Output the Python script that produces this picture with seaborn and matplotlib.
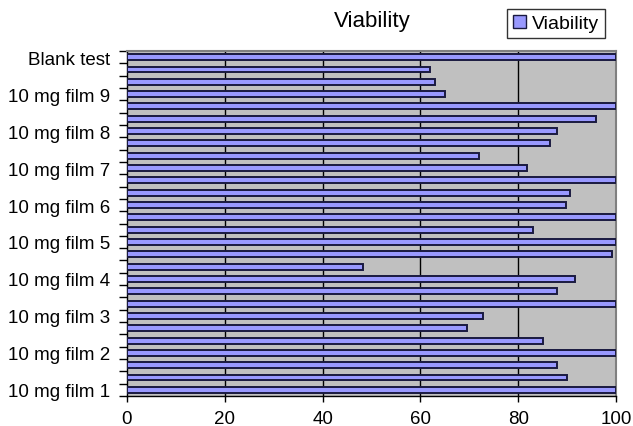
import matplotlib
matplotlib.use("Agg")
import matplotlib.pyplot as plt
import matplotlib.patches as mpatches
import seaborn as sns
import pandas as pd

# Data, listed from the bottom bar to the top bar
viability = [100, 90, 88, 100, 85, 69.6, 72.7, 100, 88, 91.7, 48.2, 99.2, 100, 83,
             100, 89.8, 90.6, 100, 81.7, 72, 86.6, 88, 96, 100, 65, 63, 62, 100]
samples = [f"s{i + 1}" for i in range(len(viability))]
tick_labels = ["10 mg film 1", "", "", "10 mg film 2", "", "", "10 mg film 3", "", "",
               "10 mg film 4", "", "", "10 mg film 5", "", "", "10 mg film 6", "", "",
               "10 mg film 7", "", "", "10 mg film 8", "", "", "10 mg film 9", "", "",
               "Blank test"]
x_ticks = [0, 20, 40, 60, 80, 100]
title = "Viability"
series_name = "Viability"

df = pd.DataFrame({"sample": samples, "viability": viability})

sns.set_theme(style="white")
plt.rcParams["font.family"] = ["Liberation Sans", "DejaVu Sans"]
plt.rcParams["text.color"] = "black"
plt.rcParams["xtick.color"] = "black"
plt.rcParams["ytick.color"] = "black"
plt.rcParams["xtick.labelcolor"] = "black"
plt.rcParams["ytick.labelcolor"] = "black"

W, H = 633, 427
fig = plt.figure(figsize=(W / 100, H / 100), dpi=100)
left, right, top, bottom = 127, 616, 52, 397
ax = fig.add_axes([left / W, 1 - bottom / H, (right - left) / W, (bottom - top) / H])

ax.set_facecolor("#c0c0c0")
order = list(reversed(samples))
sns.barplot(data=df, x="viability", y="sample", order=order, orient="h",
            color="#9999ff", edgecolor="#1a1a40", linewidth=1.4, width=0.48,
            saturation=1, ax=ax, zorder=3)

ax.set_xlim(0, 100)
ax.set_ylim(len(samples) - 0.5, -0.5)
ax.set_xlabel("")
ax.set_ylabel("")

# grid lines
for g in x_ticks[1:-1]:
    ax.axvline(g, color="black", lw=1.0, zorder=1)

ax.set_xticks(x_ticks)
ax.set_xticklabels([str(t) for t in x_ticks], fontsize=13.5, color="black")
ax.set_yticks(range(len(samples)))
ax.set_yticklabels(list(reversed(tick_labels)), fontsize=13.5, color="black")
ax.set_yticks([i - 0.5 for i in range(len(samples) + 1)], minor=True)
ax.tick_params(axis="y", which="major", length=0, pad=12)
ax.tick_params(axis="y", which="minor", length=6, width=1, color="black", direction="out", left=True)
ax.tick_params(axis="x", which="major", length=4, width=1, color="black", direction="out", bottom=True, pad=6)

for s in ["left", "bottom"]:
    ax.spines[s].set_color("black")
    ax.spines[s].set_linewidth(1.0)
for s in ["top", "right"]:
    ax.spines[s].set_color("#808080")
    ax.spines[s].set_linewidth(1.5)

fig.text(372 / W, 1 - 22 / H, title, ha="center", va="center", fontsize=16, color="black")

handle = mpatches.Patch(facecolor="#9999ff", edgecolor="#1a1a40", linewidth=1.0, label=series_name)
leg = fig.legend(handles=[handle], loc="upper right", bbox_to_anchor=(605 / W, 1 - 10 / H),
                 fontsize=14, frameon=True, fancybox=False, edgecolor="black",
                 handlelength=0.7, handleheight=0.7, handletextpad=0.3,
                 borderpad=0.3, borderaxespad=0)
leg.get_frame().set_linewidth(1.0)
for t in leg.get_texts():
    t.set_color("black")

fig.savefig("out.png", dpi=100)
